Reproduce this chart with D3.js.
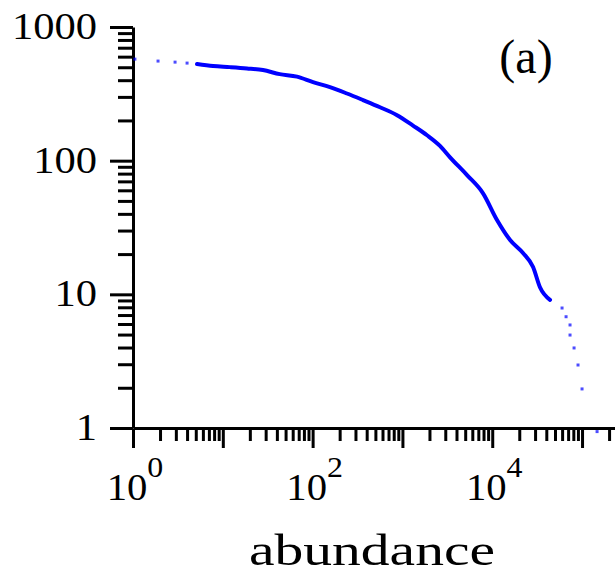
<!DOCTYPE html>
<html>
<head>
<meta charset="utf-8">
<script src="https://cdn.jsdelivr.net/npm/d3@7"></script>
<style>
    html, body { margin: 0; padding: 0; background: #fff; }
    svg { display: block; }
    text { font-family: "Liberation Serif", "DejaVu Serif", serif; fill: #000; }
</style>
</head>
<body>
<svg id="chart" width="615" height="574"></svg>
<script>
// values (abundance on x, count on y)
const headAbund = [1.05, 1.9, 2.94, 4.0];
const headCount = [575, 556, 546, 537];

const bandAbund = [5.16, 7.8, 12.0, 18.6, 28, 43, 67, 101, 156, 241, 364, 563, 871, 1312, 1880, 2620, 3390, 5240, 7900, 11300, 15800, 22000, 28500, 34000, 44000];
const bandCount = [528, 510, 501, 490, 476, 444, 425, 387, 355, 318, 284, 251, 219, 183, 155, 129, 106, 78, 57, 36, 25.5, 20.4, 16, 11.3, 9.1];

const tailAbund = [59900, 66400, 73500, 73500, 81500, 90200, 100000, 147000];
const tailCount = [7.9, 6.8, 5.9, 4.96, 3.97, 2.96, 1.96, 0.94];

const xTickValues = [1, 10, 100, 1000, 10000, 100000];
const xLabelValues = [1, 100, 10000];
const xLabelExps = ['0', '2', '4'];
const yLabelValues = [1, 10, 100, 1000];
const xTitle = 'abundance';
const panelLabel = '(a)';

const blue = '#0000ff';

const svg = d3.select('#chart');

const x = d3.scaleLog()
    .domain([1, Math.pow(10, 5.367)])
    .range([133, 615]);

const y = d3.scaleLog()
    .domain([1, 1000])
    .range([428, 27]);

// 1..9 times every decade that falls inside the domain
const minorTicks = (majors, domain) => {
    const out = [];
    majors.forEach((m) => {
        for (let k = 1; k <= 9; k++) {
            const v = m * k;
            if (v >= domain[0] && v <= domain[1] * 1.0001) out.push(v);
        }
    });
    return out;
};
const isMajor = (v) => Math.abs(Math.log10(v) - Math.round(Math.log10(v))) < 1e-6;

const xTicks = minorTicks(xTickValues, x.domain());
const yTicks = minorTicks(yLabelValues, y.domain());

// x axis
const gx = svg.append('g')
    .attr('transform', `translate(0,${y(1)})`)
    .call(d3.axisBottom(x).tickValues(xTicks).tickFormat('').tickSizeOuter(0));
gx.selectAll('.tick line')
    .attr('y1', 1)
    .attr('y2', (d) => isMajor(d) ? 20 : 13);

// y axis
const gy = svg.append('g')
    .attr('transform', `translate(${x(1)},0)`)
    .call(d3.axisLeft(y).tickValues(yTicks).tickFormat('').tickSizeOuter(0));
gy.selectAll('.tick line')
    .attr('x2', (d) => isMajor(d) ? -23 : -15);

svg.selectAll('.domain, .tick line')
    .attr('stroke', '#000')
    .attr('stroke-width', 3);

// y labels
svg.append('g').selectAll('text')
    .data(yLabelValues).enter()
    .append('text')
    .attr('transform', (d) => `translate(97,${y(d) + 12}) scale(1.15,1)`)
    .attr('text-anchor', 'end')
    .attr('font-size', 37)
    .text((d) => d);

// x labels with superscript exponents
const xl = svg.append('g').selectAll('text')
    .data(xLabelValues).enter()
    .append('text')
    .attr('transform', (d) => `translate(${x(d) + 2},500) scale(1.1,1)`)
    .attr('text-anchor', 'middle')
    .attr('font-size', 37);
xl.append('tspan').text('10');
xl.append('tspan')
    .attr('font-size', 29)
    .attr('dy', -23)
    .text((d, i) => xLabelExps[i]);

// axis title
svg.append('text')
    .attr('x', 249)
    .attr('y', 565)
    .attr('font-size', 44)
    .attr('textLength', 246)
    .attr('lengthAdjust', 'spacingAndGlyphs')
    .text(xTitle);

// panel label
svg.append('text')
    .attr('x', 526)
    .attr('y', 73)
    .attr('text-anchor', 'middle')
    .attr('font-size', 48)
    .text(panelLabel);

// dense part of the curve
const band = bandAbund.map((a, i) => [a, bandCount[i]]);
svg.append('path')
    .datum(band)
    .attr('fill', 'none')
    .attr('stroke', blue)
    .attr('stroke-width', 4)
    .attr('stroke-linecap', 'round')
    .attr('d', d3.line()
        .x((d) => x(d[0]))
        .y((d) => y(d[1]))
        .curve(d3.curveMonotoneX));

// sparse points at both ends
const sparse = headAbund.map((a, i) => [a, headCount[i]])
    .concat(tailAbund.map((a, i) => [a, tailCount[i]]));
svg.append('g').selectAll('rect')
    .data(sparse).enter()
    .append('rect')
    .attr('x', (d) => x(d[0]) - 1.5)
    .attr('y', (d) => y(d[1]) - 1.5)
    .attr('width', 3)
    .attr('height', 3)
    .attr('fill', blue)
    .attr('fill-opacity', 0.7);
</script>
</body>
</html>
